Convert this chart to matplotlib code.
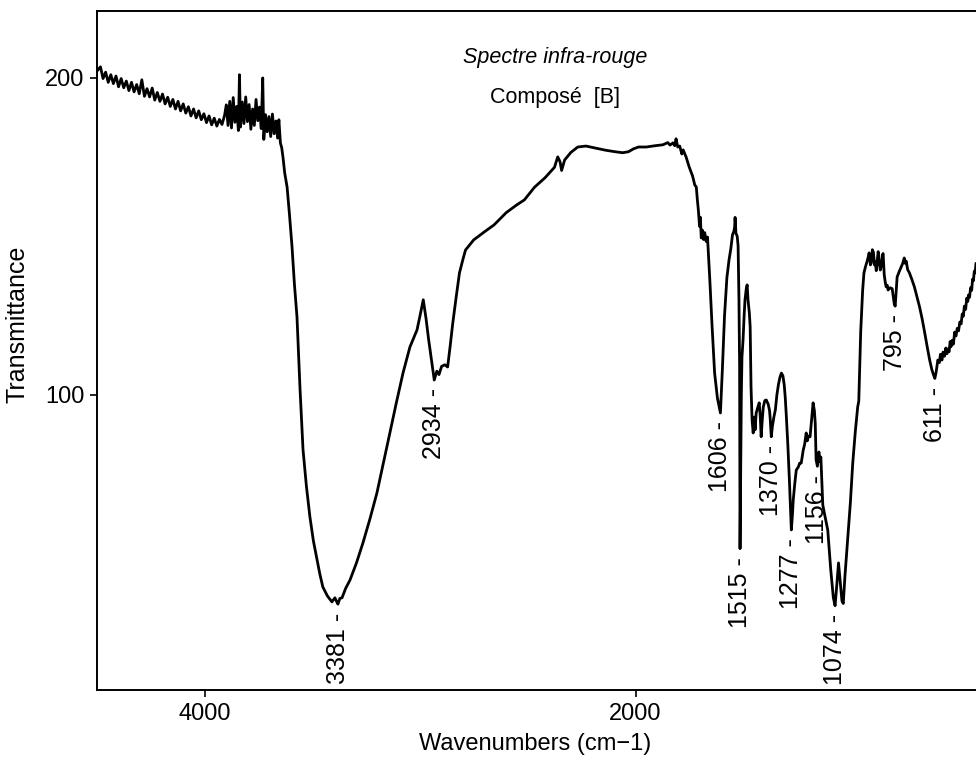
import numpy as np
import matplotlib.pyplot as plt

plt.rcParams['font.family'] = ['Liberation Sans', 'DejaVu Sans']

# spectre IR : nombre d'onde (cm-1) et transmittance
wavenumber = np.array([
    4495, 4483, 4471, 4459, 4447, 4435, 4423, 4411, 4399, 4387,
    4375, 4363, 4351, 4339, 4327, 4315, 4303, 4291, 4279, 4267,
    4255, 4243, 4231, 4219, 4207, 4195, 4183, 4171, 4159, 4147,
    4135, 4123, 4111, 4099, 4087, 4075, 4063, 4051, 4039, 4027,
    4015, 4003, 3991, 3979, 3967, 3955, 3943, 3931, 3919, 3907,
    3899, 3891, 3883, 3875, 3867, 3859, 3851, 3843, 3838, 3833,
    3825, 3817, 3809, 3801, 3793, 3785, 3777, 3769, 3761, 3753,
    3745, 3737, 3730, 3725, 3717, 3709, 3701, 3693, 3685, 3677,
    3669, 3661, 3655, 3648, 3642, 3636, 3628, 3617, 3606, 3594,
    3583, 3571, 3557, 3543, 3527, 3511, 3495, 3478, 3465, 3451,
    3430, 3409, 3395, 3387, 3381, 3372, 3362, 3345, 3325, 3295,
    3265, 3232, 3200, 3170, 3140, 3110, 3079, 3047, 3014, 3000,
    2985, 2972, 2960, 2947, 2934, 2922, 2912, 2900, 2885, 2872,
    2860, 2848, 2832, 2817, 2800, 2789, 2751, 2700, 2657, 2600,
    2550, 2516, 2469, 2420, 2376, 2361, 2350, 2343, 2336, 2329,
    2300, 2268, 2230, 2188, 2140, 2094, 2060, 2033, 2010, 1986,
    1950, 1910, 1873, 1850, 1840, 1826, 1818, 1812, 1804, 1795,
    1785, 1779, 1765, 1751, 1735, 1725, 1718, 1713, 1708, 1703,
    1699, 1695, 1690, 1684, 1679, 1672, 1666, 1655, 1645, 1633,
    1620, 1606, 1597, 1587, 1576, 1566, 1558, 1550, 1544, 1540,
    1538, 1534, 1528, 1524, 1520, 1517, 1515, 1512, 1509, 1506,
    1501, 1496, 1492, 1486, 1482, 1478, 1472, 1468, 1464, 1459,
    1454, 1449, 1445, 1440, 1433, 1426, 1421, 1417, 1412, 1407,
    1400, 1393, 1384, 1378, 1375, 1370, 1365, 1358, 1351, 1344,
    1337, 1330, 1323, 1316, 1310, 1305, 1300, 1293, 1286, 1281,
    1277, 1272, 1268, 1261, 1254, 1245, 1238, 1231, 1222, 1215,
    1208, 1203, 1197, 1190, 1183, 1176, 1170, 1166, 1162, 1156,
    1149, 1144, 1140, 1136, 1131, 1122, 1108, 1094, 1082, 1074,
    1066, 1058, 1050, 1042, 1036, 1028, 1015, 1003, 992, 980,
    969, 964, 955, 946, 940, 933, 926, 920, 916, 910,
    906, 901, 896, 891, 887, 883, 878, 874, 869, 864,
    860, 855, 851, 846, 841, 837, 832, 828, 818, 809,
    803, 799, 795, 791, 786, 777, 767, 760, 753, 748,
    744, 737, 729, 718, 706, 694, 682, 670, 658, 646,
    635, 625, 618, 611, 605, 597, 590, 585, 578, 573,
    566, 560, 555, 550, 545, 540, 536, 531, 525, 519,
    513, 507, 501, 495, 489, 484, 479, 474, 468, 463,
    458, 455, 450, 445, 440, 436, 432, 428, 424, 420,
    417,
])
transmittance = np.array([
    202.5, 203.5, 199.8, 201.8, 198.6, 201.0, 198.2, 200.6, 197.2, 199.8,
    196.9, 199.0, 196.0, 198.6, 195.6, 197.9, 195.0, 199.4, 194.2, 196.6,
    194.0, 196.8, 193.0, 195.4, 192.6, 194.9, 191.8, 193.9, 191.0, 193.2,
    190.2, 192.6, 189.6, 191.8, 188.9, 190.9, 188.0, 190.2, 187.4, 189.6,
    186.8, 188.7, 185.9, 188.0, 185.2, 187.3, 184.8, 186.9, 185.3, 188.2,
    191.5, 185.0, 192.6, 184.2, 193.8, 186.0, 191.0, 183.4, 201.0, 184.5,
    192.4, 185.6, 194.0, 186.2, 191.6, 183.8, 190.2, 185.0, 193.2, 186.5,
    190.8, 184.0, 200.0, 180.6, 188.4, 183.0, 187.8, 181.5, 188.6, 182.4,
    186.4, 181.0, 186.8, 179.5, 178.0, 175.0, 170.0, 165.6, 157.0, 146.7,
    135.0, 124.6, 102.0, 82.7, 71.0, 61.5, 54.0, 48.0, 43.5, 39.4,
    36.6, 34.7, 36.0, 34.8, 34.0, 35.8, 36.0, 39.0, 41.6, 47.0,
    53.3, 61.0, 69.1, 78.5, 88.0, 97.5, 106.9, 115.1, 120.5, 125.0,
    130.0, 124.0, 117.4, 111.0, 104.7, 107.5, 106.4, 109.0, 109.5, 108.8,
    115.5, 122.7, 131.0, 138.5, 143.0, 145.7, 148.9, 151.5, 153.6, 157.5,
    160.0, 161.5, 165.5, 168.5, 171.8, 175.1, 173.5, 170.8, 172.5, 174.1,
    176.5, 178.2, 178.5, 177.9, 177.2, 176.7, 176.4, 176.7, 177.6, 178.2,
    178.2, 178.6, 178.9, 179.6, 178.8, 179.5, 178.6, 180.8, 178.2, 178.5,
    176.0, 177.3, 175.0, 171.9, 169.0, 166.2, 165.6, 161.5, 158.0, 153.2,
    156.0, 149.5, 152.0, 149.0, 151.2, 148.4, 149.8, 136.0, 122.0, 106.9,
    99.0, 94.3, 108.0, 125.0, 137.0, 142.6, 146.0, 150.5, 151.5, 153.0,
    156.0, 151.0, 150.0, 147.0, 130.0, 108.8, 51.5, 75.0, 100.0, 112.0,
    117.4, 125.0, 130.0, 133.5, 134.7, 130.0, 126.0, 121.5, 102.5, 92.0,
    88.0, 93.0, 89.0, 94.3, 96.0, 97.5, 93.0, 86.8, 92.0, 96.2,
    98.2, 98.4, 97.0, 95.0, 92.5, 86.8, 90.0, 93.0, 95.3, 100.0,
    103.2, 105.5, 106.9, 106.0, 103.2, 99.0, 93.1, 84.0, 73.2, 64.0,
    57.4, 62.0, 66.9, 72.0, 76.3, 77.2, 78.5, 78.5, 82.5, 84.5,
    88.0, 85.5, 87.0, 86.8, 92.0, 97.5, 95.0, 91.0, 79.5, 77.5,
    82.0, 79.0, 80.4, 74.0, 65.3, 62.1, 57.4, 44.8, 36.0, 33.5,
    40.0, 47.0, 41.0, 35.0, 34.2, 43.0, 55.2, 66.0, 78.5, 88.5,
    96.2, 98.0, 120.0, 133.0, 138.5, 140.4, 142.0, 143.5, 144.8, 141.0,
    141.6, 145.8, 145.0, 141.0, 142.0, 139.2, 142.5, 145.2, 141.5, 139.4,
    140.5, 144.0, 144.6, 138.0, 135.5, 134.1, 134.6, 133.1, 133.8, 133.5,
    130.5, 128.6, 128.0, 132.0, 137.2, 138.8, 140.4, 141.5, 143.2, 141.5,
    142.2, 139.5, 138.5, 136.5, 134.1, 131.0, 127.8, 124.0, 119.6, 115.0,
    111.0, 108.0, 106.5, 105.2, 107.2, 111.0, 110.2, 112.8, 111.0, 113.5,
    112.2, 114.8, 113.0, 114.5, 113.6, 116.8, 115.2, 117.2, 116.0, 119.8,
    118.6, 121.0, 120.2, 123.0, 122.4, 125.5, 124.8, 128.0, 127.0, 130.5,
    129.5, 131.5, 130.8, 133.8, 133.0, 136.5, 136.0, 139.0, 138.5, 141.5,
    141.0,
])

# bandes repérées
peaks = [3381, 2934, 1606, 1515, 1370, 1277, 1156, 1074, 795, 611]

fig = plt.figure(figsize=(9.76, 7.65), dpi=100)
ax = fig.add_axes([0.0994, 0.098, 0.9006, 0.8876])

ax.plot(wavenumber, transmittance, color='black', lw=2.0)

for p in peaks:
    t = transmittance[wavenumber == p][0]
    ax.annotate(f"{p} -", xy=(p, t), xytext=(0, -6), textcoords='offset points',
                rotation=90, ha='center', va='top', fontsize=18)

ax.set_xlim(4499, 420)
ax.set_ylim(6.9, 221.1)
ax.set_xticks([4000, 2000])
ax.set_yticks([100, 200])
ax.tick_params(direction='out', length=5, width=1.2, labelsize=17, pad=4)

ax.spines['right'].set_visible(False)
for s in ['left', 'top', 'bottom']:
    ax.spines[s].set_linewidth(1.4)

ax.set_xlabel('Wavenumbers (cm\u22121)', fontsize=17)
ax.set_ylabel('Transmittance', fontsize=18)
ax.xaxis.set_label_coords(0.498, -0.063)
ax.yaxis.set_label_coords(-0.077, 0.539)

ax.text(0.521, 0.932, 'Spectre infra-rouge', transform=ax.transAxes,
        ha='center', va='center', fontsize=15.5, style='italic')
ax.text(0.521, 0.873, 'Composé  [B]', transform=ax.transAxes,
        ha='center', va='center', fontsize=15.5)

fig.savefig('out.png', dpi=100)
